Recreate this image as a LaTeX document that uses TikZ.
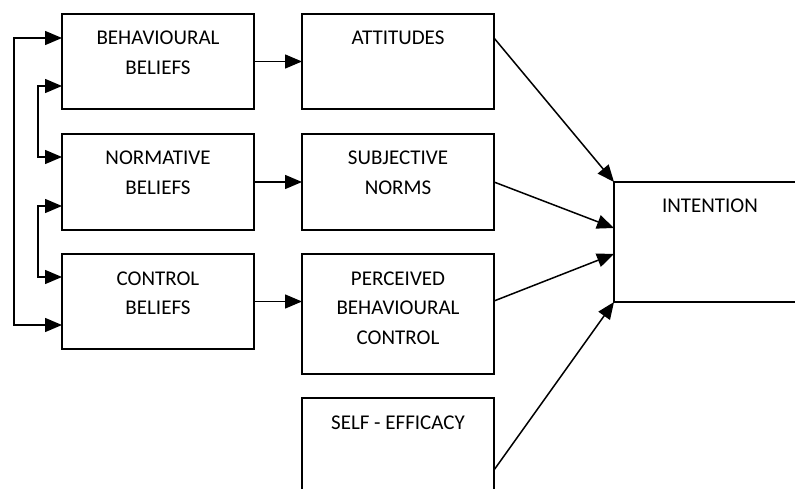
\documentclass[tikz,border=0pt]{standalone}
\usepackage{fontspec}
\setmainfont{Carlito}
\usetikzlibrary{arrows.meta}
\newcommand{\bxt}[2]{\parbox[t][#1][t]{192pt}{\centering\fontsize{21pt}{29.5pt}\selectfont\rule{0pt}{31pt}#2}}
\tikzset{
  bx/.style={draw, line width=2pt, inner sep=0pt, outer sep=0pt, anchor=north west, rectangle},
  arr/.style={line width=1.5pt, -{Triangle[length=17pt,width=14pt]}},
  dbl/.style={line width=1.5pt, {Triangle[length=17pt,width=14pt]}-{Triangle[length=17pt,width=14pt]}}
}
\begin{document}
\begin{tikzpicture}
\clip (0,0) rectangle (795pt,-489pt);
\fill[white] (0,0) rectangle (795pt,-489pt);
% left column
\node[bx] (bb) at (62pt,-14pt) {\bxt{95pt}{BEHAVIOURAL\\BELIEFS}};
\node[bx] (nb) at (62pt,-134pt) {\bxt{96pt}{NORMATIVE\\BELIEFS}};
\node[bx] (cb) at (62pt,-254pt) {\bxt{95pt}{CONTROL\\BELIEFS}};
% middle column
\node[bx] (at) at (302pt,-14pt) {\bxt{95pt}{ATTITUDES}};
\node[bx] (sn) at (302pt,-134pt) {\bxt{96pt}{SUBJECTIVE\\NORMS}};
\node[bx] (pbc) at (302pt,-254pt) {\bxt{120pt}{PERCEIVED\\BEHAVIOURAL\\CONTROL}};
\node[bx] (se) at (302pt,-398pt) {\bxt{120pt}{SELF - EFFICACY}};
% right
\node[bx] (in) at (614pt,-182pt) {\bxt{120pt}{INTENTION}};
% horizontal arrows
\draw[arr] (bb.east) -- (at.west);
\draw[arr] (nb.east) -- (sn.west);
\draw[arr] (cb.east) -- (cb.east -| pbc.west);
% arrows to intention
\draw[arr] ([yshift=-24pt]at.north east) -- (in.north west);
\draw[arr] (sn.east) -- ([yshift=-46pt]in.north west);
\draw[arr] ([yshift=-47pt]pbc.north east) -- ([yshift=-72pt]in.north west);
\draw[arr] ([yshift=-72pt]se.north east) -- (in.south west);
% left feedback connectors
\draw[dbl] ([yshift=-24pt]bb.north west) -- ++(-48pt,0) |- ([yshift=-71pt]cb.north west);
\draw[dbl] ([yshift=-72pt]bb.north west) -- ++(-24pt,0) |- ([yshift=-23pt]nb.north west);
\draw[dbl] ([yshift=-72pt]nb.north west) -- ++(-24pt,0) |- ([yshift=-23pt]cb.north west);
\end{tikzpicture}
\end{document}
